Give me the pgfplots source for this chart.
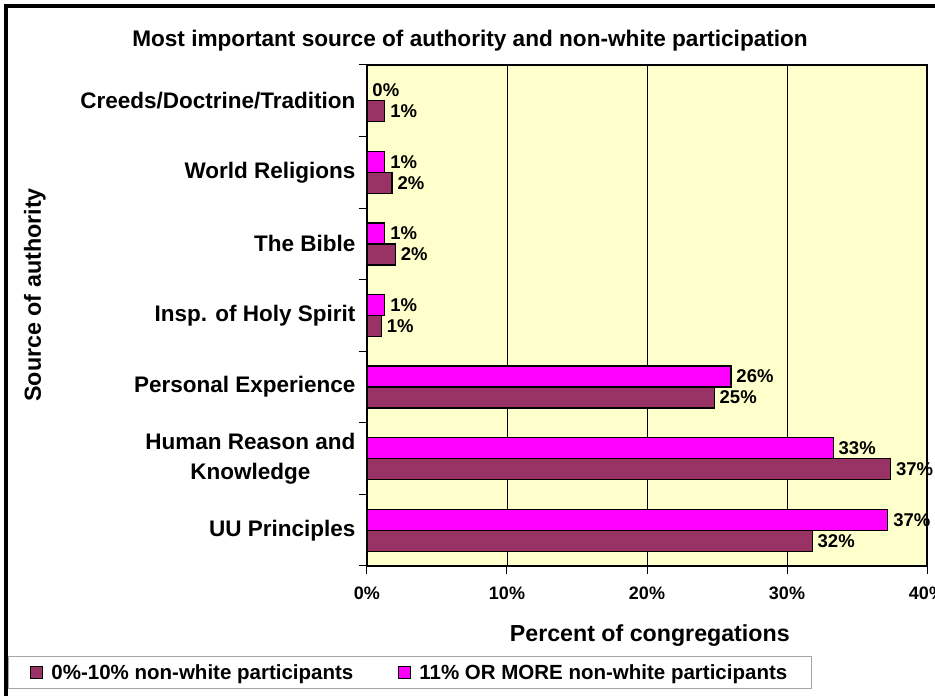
\documentclass[border=0pt]{standalone}
\usepackage{pgfplots}
\pgfplotsset{compat=1.18}
\usepackage{fontspec}
\setmainfont{Liberation Sans}
\definecolor{maroonbar}{HTML}{993366}
\definecolor{magbar}{HTML}{FF00FF}
\definecolor{plotbg}{HTML}{FFFFCC}

\pgfplotstableread{
y low high
0 31.8 37.2
1 37.4 33.3
2 24.8 26.0
3 1.03 1.27
4 2.03 1.27
5 1.79 1.27
6 1.27 0
}\datatable

\begin{document}
\begin{tikzpicture}[x=1pt,y=1pt]
\useasboundingbox (0,0) rectangle (935,696);
\begin{axis}[
  at={(367pt,130pt)}, anchor=south west,
  scale only axis, width=560pt, height=501pt,
  xbar, bar width=21pt,
  xmin=0, xmax=40, ymin=-0.5, ymax=6.5,
  axis background/.style={fill=plotbg},
  axis line style={line width=2.5pt},
  /pgf/number format/assume math mode=true,
  xtick={0,10,20,30,40},
  xtick pos=lower, ytick pos=lower,
  xticklabel={\pgfmathprintnumber{\tick}\%},
  xticklabel style={font=\fontsize{18}{20}\selectfont\bfseries, yshift=-9pt},
  xmajorgrids, grid style={black, line width=0.8pt},
  tick align=outside, tick style={black, line width=1pt},
  major tick length=8pt,
  ytick={-0.5,0.5,...,6.5},
  yticklabels={},
  extra y ticks={0,1,2,3,4,5,6},
  extra y tick labels={UU Principles, {Human Reason and\\Knowledge}, Personal Experience, Insp. of Holy Spirit, The Bible, World Religions, Creeds/Doctrine/Tradition},
  extra y tick style={tick style={draw=none}, yticklabel style={font=\fontsize{22.5}{30}\selectfont\bfseries, align=center}},
  title={Most important source of authority and non-white participation},
  title style={at={(axis description cs:0.184,1.036)}, anchor=center, font=\fontsize{22.6}{25}\selectfont\bfseries},
  xlabel={Percent of congregations},
  xlabel style={at={(axis description cs:0.505,-0.1397)}, anchor=center, font=\fontsize{23.2}{25}\selectfont\bfseries},
  ylabel={Source of authority},
  ylabel style={at={(axis description cs:-0.593,0.541)}, anchor=center, rotate=0, font=\fontsize{23.3}{25}\selectfont\bfseries},
  point meta=x,
  nodes near coords={\pgfmathprintnumber[fixed,precision=0]{\pgfplotspointmeta}\%},
  nodes near coords style={font=\fontsize{18.5}{20}\selectfont\bfseries, black, xshift=1.5pt},
  legend columns=2,
  legend style={at={(0,0)}, anchor=north west, xshift=-359pt, yshift=-90pt,
    draw=gray!70, line width=1pt, fill=white,
    font=\fontsize{20.5}{22}\selectfont\bfseries,
    inner xsep=22pt, inner ysep=6pt,
    /tikz/every odd column/.append style={column sep=6pt},
    /tikz/every even column/.append style={column sep=43pt}},
  legend cell align=left,
  legend image code/.code={\draw[#1,draw=black,line width=1pt] (0pt,-6pt) rectangle (12pt,6pt);},
]
\addplot[fill=maroonbar, draw=black, line width=1.3pt, bar shift=-10.5pt] table[x=low, y=y] {\datatable};
\addlegendentry{0\%-10\% non-white participants}
\addplot[fill=magbar, draw=black, line width=1.3pt, bar shift=10.5pt] table[x=high, y=y] {\datatable};
\addlegendentry{11\% OR MORE non-white participants}
\end{axis}
\draw[line width=4pt] (6,690) rectangle (960,-30);
\end{tikzpicture}
\end{document}
